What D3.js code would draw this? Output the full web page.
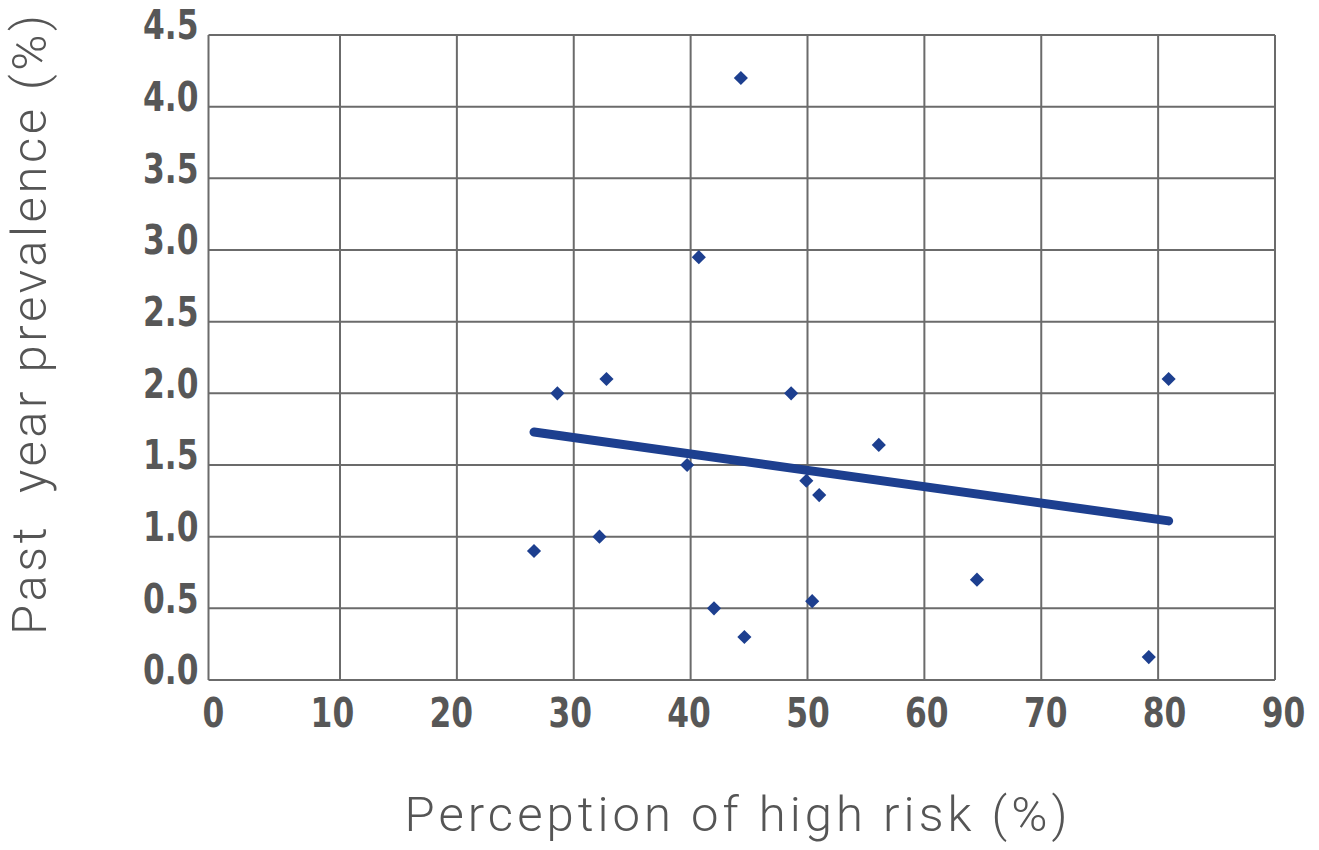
<!DOCTYPE html>
<html>
<head>
<meta charset="utf-8">
<script src="https://cdn.jsdelivr.net/npm/d3@7"></script>
<style>
  html, body { margin: 0; padding: 0; background: #fff; }
  svg { display: block; }
</style>
</head>
<body>
<svg id="chart" width="1319" height="850"></svg>
<script>
// ---- Data ----
const perceptionX = [26.6, 28.6, 32.2, 32.8, 39.7, 40.7, 42.0, 44.3, 44.6, 48.6, 49.9, 50.4, 51.0, 56.1, 64.5, 79.2, 80.9];
const prevalenceY = [0.9, 2.0, 1.0, 2.1, 1.5, 2.95, 0.5, 4.2, 0.3, 2.0, 1.39, 0.55, 1.29, 1.64, 0.7, 0.16, 2.1];
const trendX = [26.6, 80.9];
const trendY = [1.73, 1.11];
const xTicks = [0, 10, 20, 30, 40, 50, 60, 70, 80, 90];
const yTicks = [0, 0.5, 1.0, 1.5, 2.0, 2.5, 3.0, 3.5, 4.0, 4.5];
const xTitle = "Perception of high risk (%)";
const yTitle = "Past  year prevalence (%)";

// ---- Layout ----
const svg = d3.select("#chart");
const gridColor = "#6b6b6b";
const blue = "#1d3f8f";
const tickColor = "#575757";
const tickFont = "'Liberation Sans Narrow', 'DejaVu Sans Condensed', 'Roboto Condensed', Roboto, sans-serif";
const titleFont = "Roboto, 'Open Sans', 'DejaVu Sans', sans-serif";
const sx = 0.87;

const x = d3.scaleLinear().domain([0, 10, 90]).range([208.5, 340, 1275]);
const xLabel = d3.scaleLinear().domain([0, 90]).range([213, 1283]);
const y = d3.scaleLinear().domain([0, 4.5]).range([680, 35]);

svg.append("rect").attr("width", 1319).attr("height", 850).attr("fill", "#fff");

// grid
const grid = svg.append("g");
grid.selectAll("line.h").data(yTicks).join("line")
  .attr("x1", x(0)).attr("x2", x(90))
  .attr("y1", d => y(d)).attr("y2", d => y(d))
  .attr("stroke", gridColor).attr("stroke-width", 2);
grid.selectAll("line.v").data(xTicks).join("line")
  .attr("y1", y(0)).attr("y2", y(4.5))
  .attr("x1", d => x(d)).attr("x2", d => x(d))
  .attr("stroke", gridColor).attr("stroke-width", 2);

// y axis labels
const yAxis = d3.axisLeft(y).tickValues(yTicks).tickFormat(d3.format(".1f")).tickSize(0).tickPadding(10);
const gy = svg.append("g").attr("transform", `translate(${x(0)},0)`).call(yAxis);
gy.select(".domain").remove();
gy.selectAll("text")
  .attr("font-family", tickFont).attr("font-weight", "bold").attr("font-size", 40)
  .attr("fill", tickColor).attr("dy", "0.32em")
  .attr("x", -10 / sx).attr("y", -9)
  .attr("transform", `scale(${sx},1)`);

// x axis labels
const xAxis = d3.axisBottom(xLabel).tickValues(xTicks).tickFormat(d3.format("d")).tickSize(0).tickPadding(0);
const gx = svg.append("g").attr("transform", `translate(0,${y(0)})`).call(xAxis);
gx.select(".domain").remove();
gx.selectAll("text")
  .attr("font-family", tickFont).attr("font-weight", "bold").attr("font-size", 40)
  .attr("fill", tickColor).attr("dy", 0).attr("y", 47)
  .attr("transform", `scale(${sx},1)`);

// trend line
svg.append("line")
  .attr("x1", x(trendX[0])).attr("y1", y(trendY[0]))
  .attr("x2", x(trendX[1])).attr("y2", y(trendY[1]))
  .attr("stroke", blue).attr("stroke-width", 9).attr("stroke-linecap", "round");

// points
const pts = perceptionX.map((v, i) => ({ x: v, y: prevalenceY[i] }));
svg.append("g").selectAll("path").data(pts).join("path")
  .attr("d", d3.symbol().type(d3.symbolSquare).size(100))
  .attr("transform", d => `translate(${x(d.x)},${y(d.y)}) rotate(45)`)
  .attr("fill", blue);

// titles
svg.append("text")
  .attr("x", 736).attr("y", 831)
  .attr("text-anchor", "middle")
  .attr("font-family", titleFont).attr("font-weight", 300).attr("font-size", 49)
  .attr("fill", "#555")
  .attr("textLength", 663).attr("lengthAdjust", "spacing")
  .style("white-space", "pre")
  .text(xTitle);

svg.append("text")
  .attr("transform", "translate(46,325) rotate(-90)")
  .attr("text-anchor", "middle")
  .attr("font-family", titleFont).attr("font-weight", 300).attr("font-size", 49)
  .attr("fill", "#555")
  .attr("textLength", 620).attr("lengthAdjust", "spacing")
  .style("white-space", "pre")
  .text(yTitle);
</script>
</body>
</html>
